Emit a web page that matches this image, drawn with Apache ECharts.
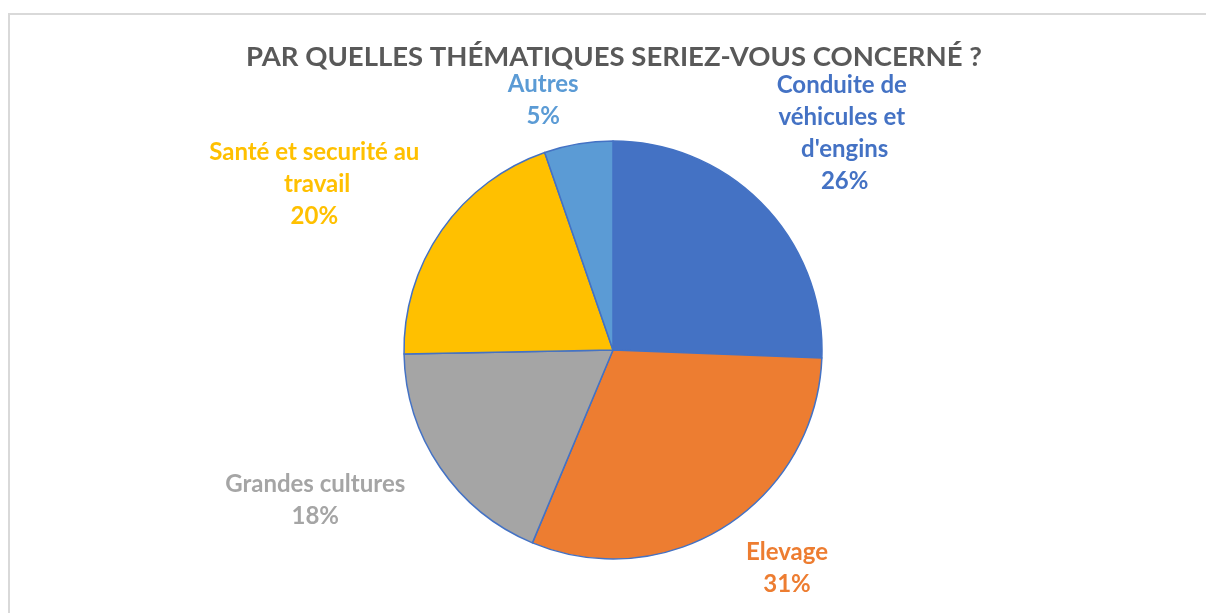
<!doctype html>
<html lang="fr">
<head>
    <meta charset="utf-8">
    <title>Thématiques</title>
    <script src="https://cdn.jsdelivr.net/npm/echarts@6/dist/echarts.min.js"></script>
    <style>
        html, body { margin: 0; padding: 0; background: #fff; }
        #chart { width: 1206px; height: 613px; }
    </style>
</head>
<body>
    <div id="chart"></div>
    <script type="text/javascript">
        // data (share of answers, %)
        var categories = ['Conduite de véhicules et d\'engins', 'Elevage', 'Grandes cultures', 'Santé et securité au travail', 'Autres'];
        var values = [25.6, 30.7, 18.4, 20.0, 5.3];
        var colors = ['#4472C4', '#ED7D31', '#A5A5A5', '#FFC000', '#5B9BD5'];
        // how wide each label may get before it wraps
        var wrapWidths = [145, 110, 230, 235, 100];

        var myChart = echarts.init(document.getElementById('chart'));

        var pieData = categories.map(function (name, i) {
            return {
                name: name,
                value: values[i],
                itemStyle: { color: colors[i] },
                label: { color: colors[i], width: wrapWidths[i] }
            };
        });

        var option = {
            backgroundColor: '#fff',
            animation: false,
            graphic: [{
                type: 'rect',
                shape: { x: 9, y: 14, width: 1400, height: 800 },
                style: { fill: 'none', stroke: '#d9d9d9', lineWidth: 2 },
                silent: true
            }],
            title: {
                text: 'PAR QUELLES THÉMATIQUES SERIEZ-VOUS CONCERNÉ ?',
                left: 609,
                top: 38,
                textAlign: 'center',
                textStyle: {
                    color: '#595959',
                    fontFamily: 'Lato',
                    fontWeight: 'bold',
                    fontSize: 27.5
                }
            },
            series: [{
                type: 'pie',
                center: [613, 350],
                radius: 209,
                startAngle: 90,
                clockwise: true,
                percentPrecision: 0,
                data: pieData,
                itemStyle: {
                    borderColor: '#4472C4',
                    borderWidth: 1.5
                },
                label: {
                    show: true,
                    position: 'outside',
                    formatter: '{b}\n{d}%',
                    fontFamily: 'Lato',
                    fontWeight: 'bold',
                    fontSize: 24,
                    lineHeight: 32,
                    overflow: 'break',
                    align: 'center'
                },
                labelLine: {
                    show: true,
                    length: 12,
                    length2: 0,
                    lineStyle: { opacity: 0 }
                },
                // put the label's nearest corner just outside the slice, like the spreadsheet does
                labelLayout: function (params) {
                    var pts = params.labelLinePoints;
                    if (!pts) return {};
                    var dx = pts[1][0] - pts[0][0];
                    var dy = pts[1][1] - pts[0][1];
                    var len = Math.sqrt(dx * dx + dy * dy) || 1;
                    dx /= len; dy /= len;
                    var w = params.labelRect.width;
                    var h = params.labelRect.height;
                    var fx = Math.sign(dx) * Math.min(1, Math.abs(dx) / 0.25);
                    var fy = Math.sign(dy) * Math.min(1, Math.abs(dy) / 0.7);
                    return {
                        x: pts[1][0] + fx * w / 2,
                        y: pts[1][1] + fy * h / 2,
                        align: 'center',
                        verticalAlign: 'middle'
                    };
                }
            }]
        };
        myChart.setOption(option);
    </script>
</body>
</html>
